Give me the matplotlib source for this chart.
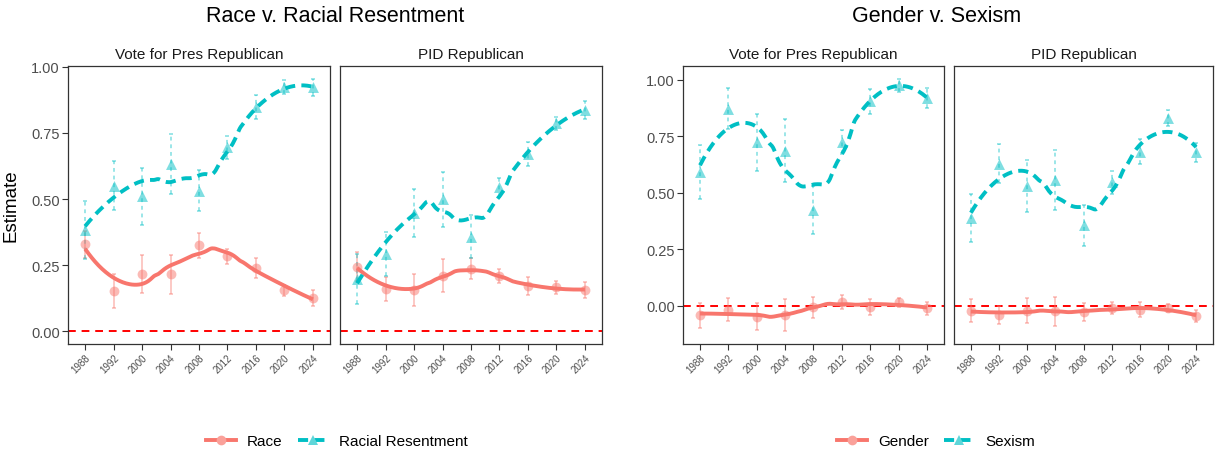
import numpy as np
import matplotlib
matplotlib.use("Agg")
import matplotlib.pyplot as plt
from matplotlib.lines import Line2D

plt.rcParams["font.family"] = ["Liberation Sans", "DejaVu Sans"]

# ---- data -------------------------------------------------------------
years = ["1988", "1992", "2000", "2004", "2008", "2012", "2016", "2020", "2024"]

race_vote = [0.329, 0.152, 0.217, 0.215, 0.325, 0.283, 0.239, 0.155, 0.127]
race_vote_ci = [0.050, 0.065, 0.073, 0.075, 0.048, 0.029, 0.039, 0.021, 0.030]
rr_vote = [0.384, 0.550, 0.510, 0.631, 0.531, 0.695, 0.849, 0.922, 0.922]
rr_vote_ci = [0.110, 0.093, 0.108, 0.113, 0.078, 0.042, 0.045, 0.026, 0.033]

race_pid = [0.245, 0.161, 0.157, 0.211, 0.236, 0.209, 0.170, 0.166, 0.157]
race_pid_ci = [0.055, 0.046, 0.060, 0.064, 0.040, 0.026, 0.034, 0.024, 0.030]
rr_pid = [0.198, 0.293, 0.447, 0.500, 0.358, 0.544, 0.670, 0.786, 0.837]
rr_pid_ci = [0.095, 0.082, 0.091, 0.104, 0.080, 0.035, 0.046, 0.024, 0.034]

gender_vote = [-0.042, -0.018, -0.049, -0.042, -0.007, 0.015, -0.007, 0.015, -0.012]
gender_vote_ci = [0.055, 0.052, 0.060, 0.072, 0.047, 0.032, 0.035, 0.020, 0.030]
sexism_vote = [0.593, 0.872, 0.723, 0.686, 0.423, 0.723, 0.905, 0.975, 0.920]
sexism_vote_ci = [0.120, 0.090, 0.125, 0.140, 0.105, 0.053, 0.055, 0.030, 0.045]

gender_pid = [-0.022, -0.042, -0.022, -0.025, -0.030, -0.010, -0.018, -0.012, -0.045]
gender_pid_ci = [0.050, 0.040, 0.055, 0.065, 0.040, 0.028, 0.033, 0.017, 0.026]
sexism_pid = [0.389, 0.629, 0.530, 0.556, 0.356, 0.546, 0.682, 0.831, 0.680]
sexism_pid_ci = [0.107, 0.088, 0.114, 0.133, 0.090, 0.050, 0.055, 0.035, 0.042]

facet_titles = ["Vote for Pres Republican", "PID Republican"]

RED = "#F8766D"
TEAL = "#00BFC4"
AXIS_COL = "#333333"
TICK_TXT = "#4D4D4D"


def loess(y, grid, span=0.75):
    """Local quadratic regression with tricube weights."""
    y = np.asarray(y, float)
    x = np.arange(len(y), dtype=float)
    q = int(np.floor(len(y) * span))
    fit = []
    for x0 in grid:
        d = np.abs(x - x0)
        h = np.sort(d)[q - 1]
        u = np.clip(d / h, 0, 1)
        w = (1 - u ** 3) ** 3
        X = np.vstack([np.ones_like(x), x - x0, (x - x0) ** 2]).T
        XtW = X.T * w
        beta = np.linalg.solve(XtW @ X, XtW @ y)
        fit.append(beta[0])
    return np.array(fit)


def data_limits(series):
    lo = min(0.0, min(min(np.array(v) - np.array(c)) for v, c in series))
    hi = max(0.0, max(max(np.array(v) + np.array(c)) for v, c in series))
    pad = 0.05 * (hi - lo)
    return lo - pad, hi + pad


W, H = 1215, 456
fig = plt.figure(figsize=(W / 100, H / 100), dpi=100)
fig.patch.set_facecolor("white")


def px_axes(left, right, top, bottom):
    return fig.add_axes([left / W, 1 - bottom / H, (right - left) / W, (bottom - top) / H])


def draw_panel(ax, a_vals, a_ci, b_vals, b_ci, ylim, yticks_on):
    x = np.arange(len(years))
    grid = np.linspace(0, len(years) - 1, 200)

    ax.axhline(0, color="#FF0000", lw=1.4, ls=(0, (4, 3)), zorder=1)

    # error bars
    ax.errorbar(x, a_vals, yerr=a_ci, fmt="none", ecolor=RED, alpha=0.5,
                elinewidth=1.1, capsize=1.6, capthick=1.1, zorder=2)
    eb2 = ax.errorbar(x, b_vals, yerr=b_ci, fmt="none", ecolor=TEAL, alpha=0.5,
                      elinewidth=1.1, capsize=1.6, capthick=1.1, zorder=2)
    eb2[2][0].set_linestyle((0, (2.5, 2.5)))

    # points
    ax.scatter(x, a_vals, s=50, marker="o", color=RED, alpha=0.5, lw=0, zorder=3)
    ax.scatter(x, b_vals, s=62, marker="^", color=TEAL, alpha=0.5, lw=0, zorder=3)

    # smoothed trends
    ax.plot(grid, loess(a_vals, grid), color=RED, lw=2.8, zorder=4,
            solid_capstyle="butt")
    ax.plot(grid, loess(b_vals, grid), color=TEAL, lw=2.8, zorder=4,
            ls=(0, (2.6, 1.6)), dash_capstyle="butt")

    ax.set_xlim(-0.6, len(years) - 0.4)
    ax.set_ylim(*ylim)
    ax.set_xticks(x)
    ax.set_xticklabels(years, rotation=45, ha="right", rotation_mode="anchor",
                       fontsize=7, color=TICK_TXT)
    ax.set_yticks([0, 0.25, 0.5, 0.75, 1.0])
    if yticks_on:
        ax.set_yticklabels(["0.00", "0.25", "0.50", "0.75", "1.00"],
                           fontsize=10.5, color=TICK_TXT)
        ax.tick_params(axis="y", length=4, width=0.8, color=AXIS_COL, pad=2)
    else:
        ax.tick_params(axis="y", left=False, labelleft=False)
    ax.tick_params(axis="x", length=4, width=0.8, color=AXIS_COL, pad=2)
    for s in ax.spines.values():
        s.set_color(AXIS_COL)
        s.set_linewidth(0.9)
    ax.set_facecolor("white")


# ---- left group: race vs racial resentment -----------------------------
ylim_left = data_limits([(race_vote, race_vote_ci), (rr_vote, rr_vote_ci),
                         (race_pid, race_pid_ci), (rr_pid, rr_pid_ci)])
ax1 = px_axes(68, 330, 67, 345)
ax2 = px_axes(340, 602, 67, 345)
draw_panel(ax1, race_vote, race_vote_ci, rr_vote, rr_vote_ci, ylim_left, True)
draw_panel(ax2, race_pid, race_pid_ci, rr_pid, rr_pid_ci, ylim_left, False)
ax1.set_ylabel("Estimate", fontsize=13.5, labelpad=8)

# ---- right group: gender vs sexism ------------------------------------
ylim_right = data_limits([(gender_vote, gender_vote_ci), (sexism_vote, sexism_vote_ci),
                          (gender_pid, gender_pid_ci), (sexism_pid, sexism_pid_ci)])
ax3 = px_axes(683, 944, 67, 345)
ax4 = px_axes(954, 1213, 67, 345)
draw_panel(ax3, gender_vote, gender_vote_ci, sexism_vote, sexism_vote_ci, ylim_right, True)
draw_panel(ax4, gender_pid, gender_pid_ci, sexism_pid, sexism_pid_ci, ylim_right, False)

for ax, title in zip([ax1, ax2, ax3, ax4], facet_titles * 2):
    ax.set_title(title, fontsize=11, color="#1A1A1A", pad=6)

fig.text(335 / W, 1 - 16 / H, "Race v. Racial Resentment", ha="center", va="center",
         fontsize=15.5, color="black")
fig.text(937 / W, 1 - 16 / H, "Gender v. Sexism", ha="center", va="center",
         fontsize=15.5, color="black")


def legend_handles(labels):
    red = Line2D([], [], color=RED, lw=2.8, marker="o", markersize=7,
                 markerfacecolor="#FAA19A", markeredgewidth=0)
    teal = Line2D([], [], color=TEAL, lw=2.8, ls=(0, (2.6, 1.6)), marker="^",
                  markersize=7.5, markerfacecolor="#5FD6D9", markeredgewidth=0)
    return [red, teal], labels


for cx, labels in [(337, ["Race", "Racial Resentment"]), (936, ["Gender", "Sexism"])]:
    h, l = legend_handles(labels)
    fig.legend(h, l, loc="center", bbox_to_anchor=(cx / W, 1 - 442 / H), ncol=2,
               frameon=False, fontsize=11, handlelength=2.0, handletextpad=0.7,
               columnspacing=1.0)

fig.savefig("out.png", dpi=100, facecolor="white")
